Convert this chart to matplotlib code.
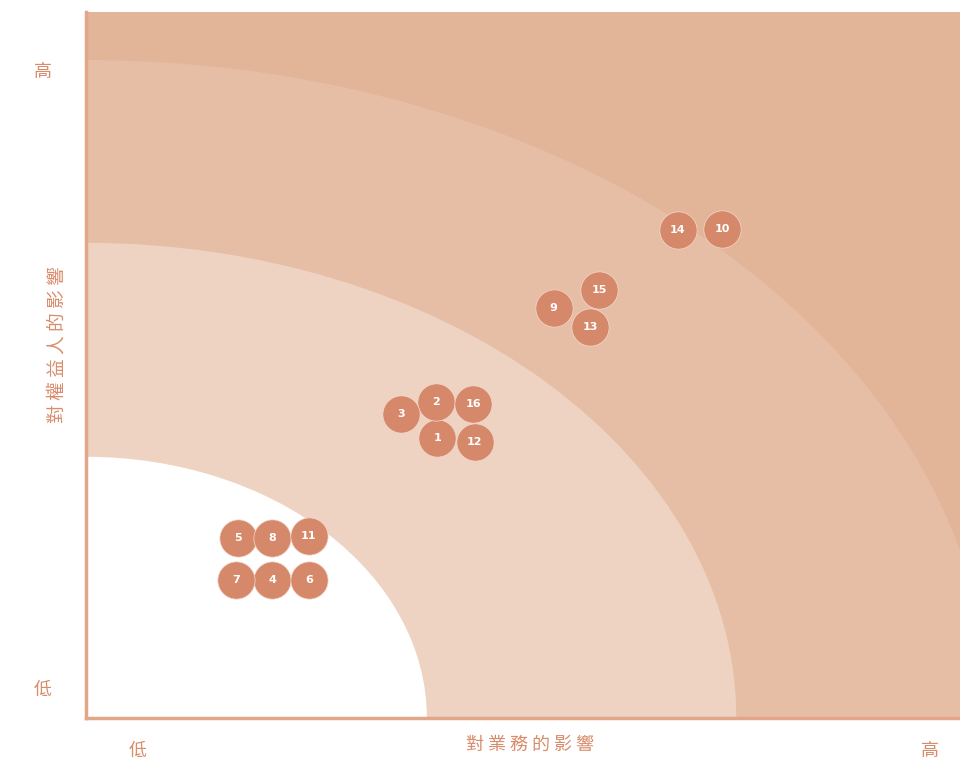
import matplotlib
matplotlib.use("Agg")
import matplotlib.pyplot as plt
from matplotlib.patches import Ellipse

plt.rcParams['font.family'] = ['Noto Sans CJK TC', 'DejaVu Sans']

# 議題編號與座標 (對業務的影響, 對權益人的影響), 0-10 分
labels = ['1', '2', '3', '4', '5', '6', '7', '8', '9', '10', '11', '12', '13', '14', '15', '16']
biz = [4.02, 4.00, 3.60, 2.13, 1.74, 2.55, 1.72, 2.13, 5.35, 7.28, 2.55, 4.45, 5.77, 6.77, 5.87, 4.43]
stake = [3.97, 4.48, 4.31, 1.95, 2.55, 1.95, 1.95, 2.55, 5.81, 6.93, 2.58, 3.91, 5.54, 6.91, 6.06, 4.45]

# 由外到內的區塊半徑 (x, y) 及顏色
band_rx = [10.34, 7.44, 3.90]
band_ry = [9.32, 6.73, 3.70]
band_colors = ['#e6bea6', '#eed3c3', '#ffffff']
outer_color = '#e2b498'

dot_color = '#d6896a'
text_color = '#d98c6c'
axis_color = '#e2a68a'

fig = plt.figure(figsize=(9.6, 7.62), dpi=100)
fig.patch.set_facecolor('white')
ax = fig.add_axes([86 / 960, 44 / 762, 874 / 960, 706 / 762])
ax.set_xlim(0, 10)
ax.set_ylim(0, 10)
ax.set_facecolor(outer_color)

for rx, ry, c in zip(band_rx, band_ry, band_colors):
    ax.add_patch(Ellipse((0, 0), 2 * rx, 2 * ry, facecolor=c, edgecolor='none', zorder=1))

ax.scatter(biz, stake, s=720, color=dot_color, edgecolors='#f3d9cc', linewidths=0.5, zorder=3)
for lab, x, y in zip(labels, biz, stake):
    ax.text(x, y, lab, color='white', fontsize=8, fontweight='bold',
            ha='center', va='center', zorder=4, family='DejaVu Sans')

for s in ['top', 'right']:
    ax.spines[s].set_visible(False)
for s in ['left', 'bottom']:
    ax.spines[s].set_color(axis_color)
    ax.spines[s].set_linewidth(2.5)
    ax.spines[s].set_zorder(5)
ax.set_xticks([])
ax.set_yticks([])

# 軸標題與高低標示
fig.text(43 / 960, 1 - 72 / 762, '高', color=text_color, fontsize=13, ha='center', va='center', fontweight='light')
fig.text(43 / 960, 1 - 690 / 762, '低', color=text_color, fontsize=13, ha='center', va='center', fontweight='light')
fig.text(138 / 960, 1 - 751 / 762, '低', color=text_color, fontsize=13, ha='center', va='center', fontweight='light')
fig.text(930 / 960, 1 - 751 / 762, '高', color=text_color, fontsize=13, ha='center', va='center', fontweight='light')
fig.text(530 / 960, 1 - 745 / 762, ' '.join('對業務的影響'), color=text_color, fontsize=13,
         ha='center', va='center', fontweight='light')
fig.text(57 / 960, 1 - 345 / 762, ' '.join('對權益人的影響'), color=text_color, fontsize=13.5,
         ha='center', va='center', rotation=90, fontweight='light')

fig.savefig('out.png', dpi=100, facecolor=fig.get_facecolor())
